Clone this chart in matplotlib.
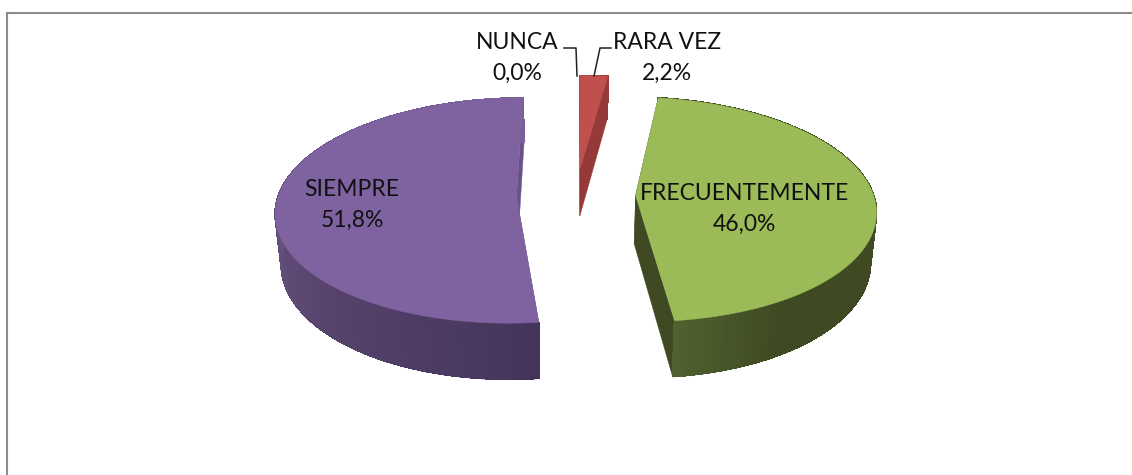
#!/usr/bin/env python3
"""Exploded 3D pie, frequency of answers (NUNCA .. SIEMPRE)."""
import matplotlib
matplotlib.use("Agg")
import matplotlib.pyplot as plt
import numpy as np
from matplotlib.collections import LineCollection
from matplotlib.patches import Polygon

categories = ["NUNCA", "RARA VEZ", "FRECUENTEMENTE", "SIEMPRE"]
values = [0.0, 2.2, 46.0, 51.8]

TOP = {"RARA VEZ": "#c0504d", "FRECUENTEMENTE": "#9bbb59", "SIEMPRE": "#7f63a1"}
RADIAL = {"RARA VEZ": "#953a38", "FRECUENTEMENTE": "#3f4a23", "SIEMPRE": "#685288"}
# outer wall colour stops, from the wedge's first angle to its last
WALL = {
    "RARA VEZ": ["#953a38", "#953a38"],
    "FRECUENTEMENTE": ["#3f4a23"] * 7 + ["#4f612f"],
    "SIEMPRE": ["#44345a", "#5b4771", "#6e598a", "#7a6098"],
}
LABEL_POS = {
    "NUNCA": (517, 58),
    "RARA VEZ": (667, 58),
    "FRECUENTEMENTE": (744, 209),
    "SIEMPRE": (352, 205),
}
LEADERS = {
    "NUNCA": ([564, 576, 577], [48, 48, 76]),
    "RARA VEZ": ([611, 600, 594], [48, 48, 76]),
}

# projection of the tilted pie onto the picture, in pixels
X0, Y0 = 576, 195
RX, RY = 238, 110.5
PERSP = 0.124
EXPLODE = 0.25
DEPTH = 49
BOTTOM_SHRINK = 0.98


def project(wx, wy, bottom=False):
    s = 1 / (1 + PERSP * wy)
    x = X0 + RX * wx * s
    y = Y0 - RY * wy * s
    if bottom:
        x = X0 + (x - X0) * BOTTOM_SHRINK
        y = y + DEPTH * s
    return x, y


def blend(stops, t):
    stops = [np.array(matplotlib.colors.to_rgb(c)) for c in stops]
    pos = t * (len(stops) - 1)
    i = min(int(pos), len(stops) - 2)
    return tuple(stops[i] + (stops[i + 1] - stops[i]) * (pos - i))


fig = plt.figure(figsize=(11.32, 4.75), dpi=100)
ax = fig.add_axes([0, 0, 1, 1])
ax.set_xlim(0, 1132)
ax.set_ylim(475, 0)
ax.axis("off")

# only the top and left of the chart border fall inside the crop
ax.plot([7, 7, 1132], [475, 13.3, 13.3], color="#8c8c8c", lw=1.5, zorder=1,
        solid_joinstyle="miter")

fractions = np.array(values) / sum(values)
edges = np.concatenate([[0], np.cumsum(fractions)]) * 2 * np.pi

for k, name in enumerate(categories):
    if values[k] == 0:
        continue
    a0, a1 = edges[k], edges[k + 1]
    mid = (a0 + a1) / 2
    ex, ey = EXPLODE * np.sin(mid), EXPLODE * np.cos(mid)
    th = np.linspace(a0, a1, 240)
    wx, wy = ex + np.sin(th), ey + np.cos(th)
    z = 2 + k

    # radial side walls
    for a in (a0, a1):
        p = [project(ex, ey), project(ex + np.sin(a), ey + np.cos(a)),
             project(ex + np.sin(a), ey + np.cos(a), True), project(ex, ey, True)]
        ax.add_patch(Polygon(p, fc=RADIAL[name], ec=RADIAL[name], lw=0.3, zorder=z))

    # outer wall as thin shaded strips, aliased so the seams do not show
    tx, ty = project(wx, wy)
    bx, by = project(wx, wy, True)
    cols = [blend(WALL[name], i / (len(th) - 2)) for i in range(len(th) - 1)]
    for i, c in enumerate(cols):
        p = [(tx[i], ty[i]), (tx[i + 1], ty[i + 1]), (bx[i + 1], by[i + 1]), (bx[i], by[i])]
        ax.add_patch(Polygon(p, fc=c, ec=c, lw=0.6, antialiased=False, zorder=z))
    segs = np.stack([np.c_[bx[:-1], by[:-1]], np.c_[bx[1:], by[1:]]], axis=1)
    ax.add_collection(LineCollection(segs, colors=cols, linewidths=1.0, zorder=z))

    # top face
    ax0, ay0 = project(ex, ey)
    top = [(ax0, ay0)] + list(zip(tx, ty))
    ax.add_patch(Polygon(top, fc=TOP[name], ec=TOP[name], lw=0.3, zorder=z + 0.5))

for name, value in zip(categories, values):
    x, y = LABEL_POS[name]
    pct = f"{value:.1f}%".replace(".", ",")
    ax.text(x, y, f"{name}\n{pct}", ha="center", va="center", fontsize=16.5,
            family="Lato", color="#111111", linespacing=1.55, zorder=20)

for name, (lx, ly) in LEADERS.items():
    ax.plot(lx, ly, color="#222222", lw=1.1, zorder=19)

fig.savefig("out.png", dpi=100)
